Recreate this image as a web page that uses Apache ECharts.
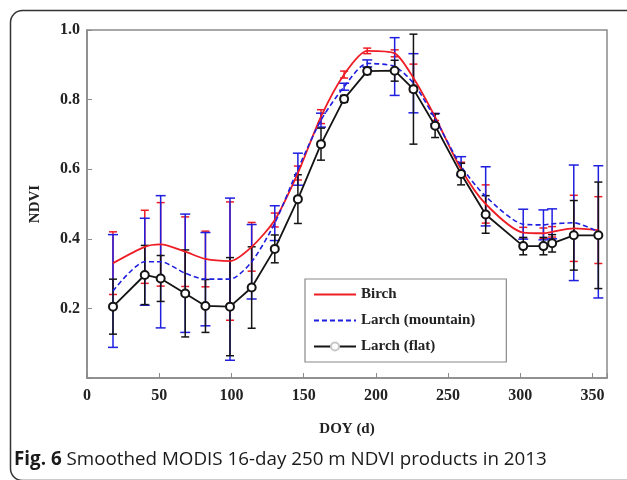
<!DOCTYPE html>
<html>
<head>
<meta charset="utf-8">
<script src="https://cdn.jsdelivr.net/npm/echarts@6/dist/echarts.min.js"></script>
<style>
html,body{margin:0;padding:0;background:#fff;}
#chart{width:627px;height:480px;}
</style>
</head>
<body>
<div id="chart"></div>
<script>
// ---- Data ----
const doy = [18, 40, 51, 68, 82, 99, 114, 130, 146, 162, 178, 194, 213, 226, 241, 259, 276, 302, 316, 322, 337, 354];

const birchMean = [0.330, 0.377, 0.384, 0.363, 0.342, 0.336, 0.377, 0.454, 0.589, 0.751, 0.872, 0.940, 0.933, 0.862, 0.750, 0.600, 0.500, 0.418, 0.416, 0.420, 0.430, 0.425];
const birchErr  = [0.090, 0.105, 0.120, 0.100, 0.080, 0.170, 0.070, 0.020, 0.020, 0.020, 0.010, 0.008, 0.010, 0.040, 0.010, 0.020, 0.055, 0.015, 0.015, 0.015, 0.095, 0.096];

const larchMtnMean = [0.250, 0.334, 0.334, 0.301, 0.284, 0.284, 0.334, 0.445, 0.600, 0.741, 0.837, 0.904, 0.895, 0.847, 0.745, 0.609, 0.522, 0.442, 0.440, 0.443, 0.446, 0.420];
const larchMtnErr  = [0.162, 0.125, 0.190, 0.170, 0.134, 0.233, 0.107, 0.050, 0.046, 0.020, 0.010, 0.010, 0.083, 0.085, 0.015, 0.027, 0.085, 0.043, 0.043, 0.043, 0.166, 0.190];

const larchFlatMean = [0.205, 0.296, 0.286, 0.243, 0.207, 0.205, 0.260, 0.371, 0.514, 0.672, 0.802, 0.882, 0.883, 0.830, 0.725, 0.586, 0.470, 0.379, 0.379, 0.387, 0.410, 0.410];
const larchFlatErr  = [0.079, 0.085, 0.066, 0.125, 0.076, 0.141, 0.117, 0.040, 0.070, 0.046, 0.010, 0.010, 0.030, 0.158, 0.034, 0.031, 0.054, 0.025, 0.025, 0.025, 0.100, 0.153];

const seriesNames = ['Birch', 'Larch (mountain)', 'Larch (flat)'];
const xTicks = [0, 50, 100, 150, 200, 250, 300, 350];
const yTicks = [0.2, 0.4, 0.6, 0.8, 1.0];
const captionBold = 'Fig. 6';
const captionText = ' Smoothed MODIS 16-day 250 m NDVI products in 2013';

// ---- Build ----
const RED = '#ee1c24', BLUE = '#1f1fe0', BLACK = '#141414';
const serif = '"Liberation Serif", "DejaVu Serif", serif';

function pts(mean) { return doy.map((d, i) => [d, mean[i]]); }
function errData(mean, err) { return doy.map((d, i) => [d, mean[i], err[i]]); }

function errSeries(name, mean, err, color, hw, z) {
  return {
    type: 'custom', name: name, z: z, silent: true,
    data: errData(mean, err),
    encode: { x: 0, y: 1 },
    renderItem: function (params, api) {
      const x = api.value(0), y = api.value(1), e = api.value(2);
      const t = api.coord([x, y + e]);
      const b = api.coord([x, y - e]);
      const st = { stroke: color, lineWidth: 1.5 };
      return {
        type: 'group',
        children: [
          { type: 'line', shape: { x1: t[0], y1: t[1], x2: b[0], y2: b[1] }, style: st },
          { type: 'line', shape: { x1: t[0] - hw, y1: t[1], x2: t[0] + hw, y2: t[1] }, style: st },
          { type: 'line', shape: { x1: b[0] - hw, y1: b[1], x2: b[0] + hw, y2: b[1] }, style: st }
        ]
      };
    }
  };
}

const chart = echarts.init(document.getElementById('chart'), null, { renderer: 'canvas' });
const option = {
  backgroundColor: '#fff',
  animation: false,
  grid: { left: 87, top: 30, right: 20, bottom: 102, show: true, borderColor: '#8a8a8a', borderWidth: 1.5, backgroundColor: 'transparent' },
  xAxis: {
    type: 'value', min: 0, max: 360, interval: 50,
    name: 'DOY (d)', nameLocation: 'middle', nameGap: 44,
    nameTextStyle: { fontFamily: serif, fontWeight: 'bold', fontSize: 15, color: '#222' },
    axisLine: { lineStyle: { color: '#8a8a8a', width: 1.5 } },
    axisTick: { inside: true, length: 5, lineStyle: { color: '#8a8a8a' } },
    splitLine: { show: false },
    axisLabel: {
      fontFamily: serif, fontWeight: 'bold', fontSize: 16, color: '#222', margin: 10,
      formatter: v => (xTicks.indexOf(v) >= 0 ? String(v) : '')
    }
  },
  yAxis: {
    type: 'value', min: 0, max: 1.0, interval: 0.2,
    name: 'NDVI', nameLocation: 'middle', nameGap: 44,
    nameTextStyle: { fontFamily: serif, fontWeight: 'bold', fontSize: 15, color: '#222' },
    axisLine: { lineStyle: { color: '#8a8a8a', width: 1.5 } },
    axisTick: { inside: true, length: 5, lineStyle: { color: '#8a8a8a' } },
    splitLine: { show: false },
    axisLabel: {
      fontFamily: serif, fontWeight: 'bold', fontSize: 16, color: '#222', margin: 7,
      formatter: v => {
        const m = yTicks.find(t => Math.abs(t - v) < 1e-6);
        return m === undefined ? '' : m.toFixed(1);
      }
    }
  },
  legend: {
    data: [
      { name: seriesNames[0], itemStyle: { opacity: 0 } },
      { name: seriesNames[1], itemStyle: { opacity: 0 } },
      { name: seriesNames[2], itemStyle: { color: '#c8c8c8', borderColor: '#777', borderWidth: 1 } }
    ],
    orient: 'vertical', left: 305, top: 279,
    itemWidth: 42, itemHeight: 10, itemGap: 11,
    padding: [8, 31, 8, 8],
    borderColor: '#8a8a8a', borderWidth: 1.2, backgroundColor: '#fff',
    textStyle: { fontFamily: serif, fontWeight: 'bold', fontSize: 15, color: '#222' }
  },
  graphic: [
    { type: 'rect', left: 8, top: 8, shape: { width: 660, height: 470, r: 12 }, style: { fill: 'none', stroke: '#333', lineWidth: 1.5 }, z: 100 },
    {
      type: 'text', left: 14, top: 450, z: 100,
      style: {
        text: '{b|' + captionBold + '}{n|' + captionText + '}',
        rich: {
          b: { fontFamily: '"Open Sans", "Noto Sans", sans-serif', fontWeight: 'bold', fontSize: 18.8, fill: '#1a1a1a' },
          n: { fontFamily: '"Open Sans", "Noto Sans", sans-serif', fontSize: 18.8, fill: '#1a1a1a' }
        }
      }
    }
  ],
  series: [
    errSeries('errBirch', birchMean, birchErr, RED, 4, 2),
    errSeries('errMtn', larchMtnMean, larchMtnErr, BLUE, 5, 3),
    errSeries('errFlat', larchFlatMean, larchFlatErr, BLACK, 4, 4),
    {
      name: seriesNames[0], type: 'line', data: pts(birchMean), smooth: 0.25,
      symbol: 'none', z: 5,
      lineStyle: { color: RED, width: 1.8 }, itemStyle: { color: RED }
    },
    {
      name: seriesNames[1], type: 'line', data: pts(larchMtnMean), smooth: 0.25,
      symbol: 'none', z: 6,
      lineStyle: { color: BLUE, width: 1.6, type: [5, 3] }, itemStyle: { color: BLUE }
    },
    {
      name: seriesNames[2], type: 'line', data: pts(larchFlatMean),
      symbol: 'emptyCircle', symbolSize: 8, z: 7,
      lineStyle: { color: BLACK, width: 1.8 }, itemStyle: { color: BLACK, borderWidth: 1.6 }
    }
  ]
};
chart.setOption(option);
</script>
</body>
</html>
